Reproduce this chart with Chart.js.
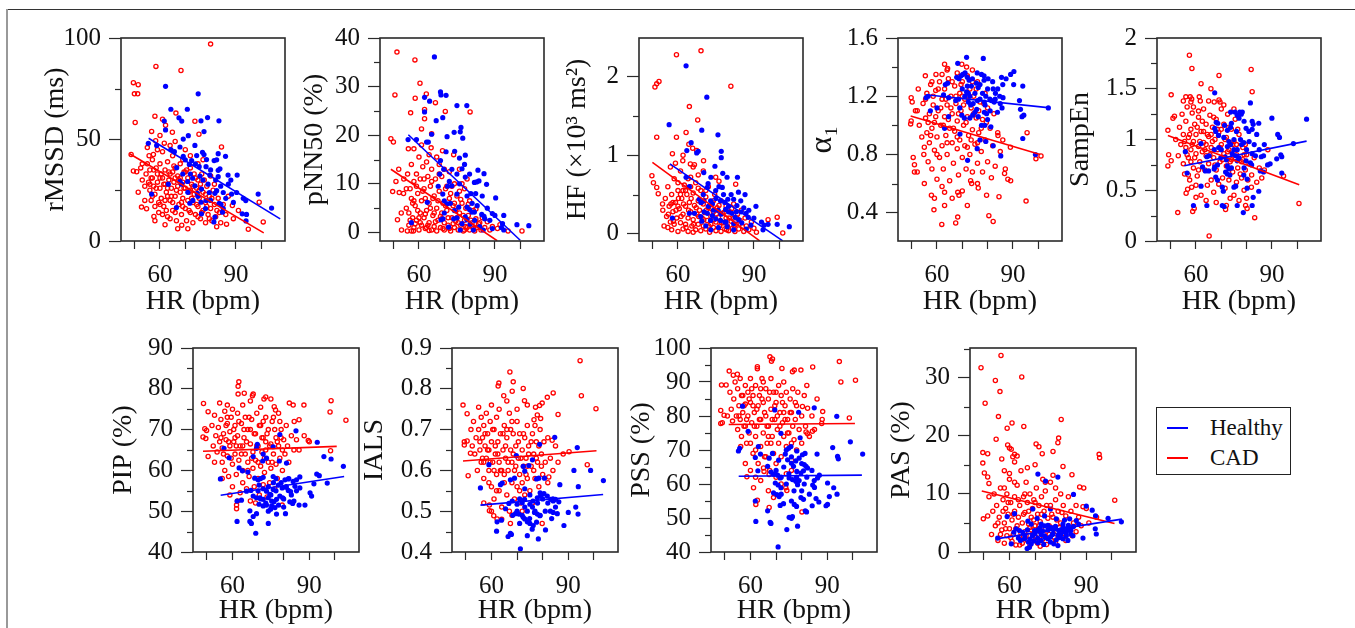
<!DOCTYPE html>
<html>
<head>
<meta charset="utf-8">
<script src="https://cdn.jsdelivr.net/npm/chart.js@4.4.1/dist/chart.umd.min.js"></script>
<style>
  body { margin: 0; background: #fff; }
  #fig { position: relative; width: 1355px; height: 628px; overflow: hidden; background: #fff; }
  .panel { position: absolute; }
  #edge-top { position: absolute; left: 7px; top: 9px; width: 1348px; height: 1px; background: #333; }
  #edge-left { position: absolute; left: 6px; top: 9px; width: 2px; height: 619px; background: #999; }
  #legend { position: absolute; left: 1156px; top: 407px; width: 133px; height: 66px; border: 1.5px solid #222;
    font-family: "Liberation Serif", "Times New Roman", serif; font-size: 23px; color: #111; }
  #legend .row { position: absolute; left: 0; height: 30px; line-height: 30px; }
  #legend .swatch { position: absolute; left: 10px; top: 14px; width: 21px; height: 2px; }
  #legend .name { position: absolute; left: 53px; top: 0; white-space: nowrap; }
</style>
</head>
<body>
<div id="fig">
  <div id="edge-top"></div>
  <div id="edge-left"></div>
  <div id="legend">
    <div class="row" style="top:5px"><div class="swatch" style="background:#0000ff"></div><span class="name">Healthy</span></div>
    <div class="row" style="top:35px"><div class="swatch" style="background:#ff0000"></div><span class="name">CAD</span></div>
  </div>
</div>
<script>
'use strict';

// x axis (heart rate) shared by every panel
const xTicks = [50, 60, 70, 80, 90, 100];
const xLabels = [60, 90];

// rMSSD (ms)
const rmssdTicks = [0, 25, 50, 75, 100];
const rmssdLabels = [0, 50, 100];
const rmssdHealthy = [[62.2,76.2],[75.1,72.5],[64.3,64.9],[70.8,64.9],[67.5,60.7],[68.6,59.1],[76.2,59.2],[78.8,60.8],[83.3,59.2],[61.7,59.1],[62.2,54.7],[71.2,51.9],[77.4,53.9],[69.2,50.2],[55.4,48.1],[58.7,47.1],[73.8,47.1],[67.9,46.3],[64.3,45],[65.7,44],[76.8,43.7],[77.4,42.6],[74.5,42.1],[69.2,41.7],[78.4,40.1],[81.4,39.6],[82.4,40],[85.9,41.7],[72.5,39.6],[71.6,37.7],[66.6,36.1],[75.5,36.6],[78.2,36.6],[83,34.8],[83.7,35.6],[79.7,32.5],[83,31.7],[86.9,32.5],[90.5,32.5],[75.8,32],[72.9,30.9],[67.9,29.3],[68.6,28],[70.9,29.3],[73.8,27.2],[76.4,25.6],[74.7,23.5],[79.5,23.9],[82.4,24.8],[81.7,23.5],[85,23.9],[90.3,23.9],[88.3,23.1],[98.8,23.1],[92.9,21],[93.9,19.9],[63.3,28],[56.7,23.1],[71.8,18.6],[76.2,19.1],[78.2,20],[83.4,18.6],[84.1,18],[76.4,13.4],[81.7,11.8],[81.3,9.4],[84.7,14.2],[92.5,13.4],[94.2,13.1],[94,9.9],[104.1,16.2],[66.5,16.5],
  [70,40],[72,33],[74,38],[77,30],[79,28],[80,35],[82,30],[84,27],[86,21],[87,28],[73,20],[75,22],[80,20],[85,16],[88,30],[69,33],[71,24],[78,16],[83,43],[89,19]];
const rmssdCad = [[80,97],[58.4,86],[68.3,84],[49.5,78],[51.4,77],[49.9,72.5],[51.2,72.5],[50.2,58.4],[58,61.5],[56.7,54],[66.3,63],[61,60],[62.2,57],[64.9,53.6],[73.8,59],[75.4,52.6],[58.3,49.4],[61.7,48.2],[84.3,46.3],[48.6,42.6],[55.7,42],[57.4,42.6],[49.5,34.5],[50.8,34.1],[52.4,36],[51.4,24],[52.7,16.7],[54.7,15.9],[57.6,12.1],[100.8,9.4],[94.9,5.8],[99.2,19.1],[88.6,17.5],[86.3,8.3],[82.4,7],[68.6,7.8],
  [53,30],[54,27],[54.5,33],[55,38],[55.5,29],[56,25],[56,35],[56.5,20],[57,31],[57,40],[57.5,27],[58,17],[58,23],[58.5,36],[59,29],[59,33],[59.5,14],[60,26],[60,38],[60.5,21],[61,31],[61,44],[61.5,17],[62,28],[62,35],[62.5,24],[63,12],[63,39],[63.5,30],[64,20],[64,33],[64.5,26],[65,15],[65,42],[65.5,29],[66,22],[66,36],[66.5,10],[67,27],[67,32],[67.5,18],[68,24],[68,38],[68.5,13],[69,29],[69,21],[69.5,34],[70,16],[70,26],[70.5,10],[71,31],[71,20],[71.5,24],[72,14],[72,36],[72.5,28],[73,9],[73,19],[73.5,23],[74,31],[74,13],[74.5,26],[75,17],[75.5,21],[76,11],[76,28],[76.5,33],[77,15],[77,24],[78,9],[78,19],[78.5,27],[79,13],[79.5,22],[80,16],[80.5,10],[81,25],[81.5,18],[82,12],[83,21],[83.5,14],[84,9],[85,18],[86,13],[87,22],[89,11],[91,15],[59,45],[64,47],[60,52],[70,45],[66,49],[72,42],[55,46],[58,10],[62,8],[67,6],[71,6],[64,11],[69,40],[75,38],[80,32],[77,40],[57,22],[61,13],[65,19],[62,20],[68,31],[70,34],[73,27],[66,14],[63,26],[60,31],[56,28],[75,30],[54,20],[53,38],
  [56.5,31],[57.5,35],[58.5,26],[59.5,19],[60.5,33],[61.5,28],[62.5,15],[63.5,34],[64.5,22],[65.5,37],[66.5,25],[67.5,30],[68.5,19],[69.5,26],[70.5,35],[71.5,15],[72.5,21],[73.5,33],[74.5,18],[75.5,25],[76.5,14],[77.5,30],[78.5,17],[79.5,11],[80.5,21],[81.5,28],[82.5,15],[60,18],[63,22],[66,31],[69,17],[72,25],[75,12],[78,23],[65,34]];
const rmssdHealthyFit = [[55.5,50.6],[107.5,10.9]];
const rmssdCadFit = [[48,43],[101,4]];

// pNN50 (%)
const pnn50Ticks = [0, 5, 10, 15, 20, 25, 30, 35, 40];
const pnn50Labels = [0, 10, 20, 30, 40];
const pnn50Healthy = [[66.1,36.1],[62.2,27.8],[62.2,24.8],[64.2,27],[68.5,28.9],[68.7,28.3],[70.7,28.2],[75,26.1],[78.9,26.1],[69.4,23.6],[66.8,23],[63,18.6],[63.7,18.6],[55.7,19.1],[59,19.1],[65,20.2],[71.1,19.7],[73.9,20.6],[76.6,21.6],[76.3,20.7],[77.3,19.4],[70.7,16.6],[74.1,16.7],[76,15.3],[78.3,15.9],[77,13.1],[68.5,14.8],[69.8,13],[68.2,12],[78.3,11.4],[83.3,12.8],[85.7,12.1],[81.9,10.3],[82.8,10.4],[83.7,10.6],[86.7,9.9],[80.5,8],[82.4,8],[90.3,7.1],[71.3,9.5],[73,9.6],[67.6,9.5],[69.4,7.9],[63.3,6.2],[72.4,6],[71.1,5.9],[75,7.9],[75.7,5.2],[79,5.2],[80,4.7],[80.9,4.2],[81.9,4.2],[84.8,3.7],[85.7,3.3],[89,3.9],[90,3.5],[93.5,3.5],[69.5,2.8],[68.7,2.6],[73.7,2.8],[75,3],[78.3,3.2],[78.9,2.6],[80.2,1.7],[57,2],[71.7,1.1],[76.3,0.5],[81.5,0.5],[85.4,0.5],[92.6,1],[93.5,0.5],[98.7,1.6],[103.4,1.4],[93,1.8],
  [70,6.5],[72,10.5],[74,4.5],[76,10],[79,7.5],[81,6],[83,5.5],[85,7.5],[87,5],[88,2.5],[73,13],[75,12],[78,14],[80,12],[82,2.5],[84,1.2],[86,2.8],[89,0.8],[70,4],[77,1.8]];
const pnn50Cad = [[51.3,37.1],[58.4,35.5],[50.5,28.3],[58.5,27.6],[60.4,30.7],[62.9,28.5],[62.2,25.3],[62.2,23.4],[66.5,26.7],[70.4,24.9],[80.2,24.8],[56.7,24.6],[61,21.3],[65,20.3],[48.9,19.3],[49.9,18.6],[55.8,17.2],[58,17.2],[64.8,17.4],[69.3,16.8],[73.7,16],[50.9,10.5],[49.6,8.4],[52.2,8.2],[53.9,8],[51.5,2.6],[53.1,0.5],[55.4,0.3],[57.8,0.3],[100.7,0.3],[95.2,0.3],
  [55,5],[55.5,12],[56,4],[56.5,9],[56,1.5],[57,7],[57,14],[57.5,3],[58,10.5],[58,1],[58.5,5.5],[59,12],[59,2.5],[59.5,8],[60,0.5],[60,15.5],[60.5,4],[60.5,11],[61,6.5],[61,1.5],[61.5,13.5],[62,3],[62,9],[62.5,0.8],[62.5,7],[63,14.5],[63,4.5],[63.5,11.5],[64,2],[64,6],[64.5,9.5],[65,0.5],[65,13],[65.5,3.5],[66,7.5],[66,1.2],[66.5,11],[67,5],[67,0.3],[67.5,2.5],[68,8.5],[68,14],[68.5,1],[69,4],[69,11.5],[69.5,6],[70,0.5],[70,2],[70.5,9],[71,4.5],[71.5,1.5],[72,7],[72,12.5],[72.5,0.3],[73,3],[73.5,5.5],[74,1],[74,10],[74.5,2.3],[75,7.5],[75.5,0.5],[76,4],[76,13],[76.5,1.5],[77,6],[77.5,0.3],[78,2.5],[78,9],[78.5,5],[79,1],[79.5,3.5],[80,0.5],[80,6.5],[81,2],[81.5,4.5],[82,0.3],[82.5,2.8],[83,1],[84,2],[84.5,0.5],[85,3],[86,1],[87,2.2],[88,0.5],[89,1.2],[91,0.8],[92,1.6],[61,18],[64,16],[67,15.5],[70,13],[73,9.5],[76,8.5],[79,11],[58,6.5],[63,1],[66,4],[69,2.8],[72,0.8],[75,3],[78,0.5],[81,1.3],[64,0.4],[60,3],[57,0.3],[55,9],[53,4],[54,11],[52,13],
  [56.5,2.5],[57.5,6],[58.5,1.8],[59.5,4.5],[60.5,2],[61.5,8.5],[62.5,3.8],[63.5,1.5],[64.5,5],[65.5,7],[66.5,2.2],[67.5,6.5],[68.5,3.3],[69.5,0.8],[70.5,5.5],[71.5,3],[72.5,8],[73.5,1.8],[74.5,4.5],[75.5,2],[76.5,6.8],[77.5,3.5],[78.5,1.2],[79.5,5.8],[80.5,2.5],[81.5,0.8],[82.5,4.8],[83.5,1.8],[65,10.5],[68,12],[71,9.5],[62,11],[59,9.5],[74,6],[77,10]];
const pnn50HealthyFit = [[55.8,20.1],[100,-1.6]];
const pnn50CadFit = [[48.9,13],[90.9,-1.7]];

// HF (x10^3 ms^2)
const hfTicks = [0, 0.5, 1, 1.5, 2];
const hfLabels = [0, 1, 2];
const hfHealthy = [[63.2,2.14],[71.4,1.74],[56.5,1.39],[69.4,1.32],[75.8,1.26],[77.1,1.05],[77.1,0.97],[65.2,1.16],[63.5,1.06],[68,1.05],[67.4,1.03],[74.6,0.86],[70.2,0.78],[73,0.72],[77.7,0.77],[79.4,0.72],[83.5,0.72],[63.2,0.72],[64.5,0.6],[71.9,0.64],[71.6,0.59],[76.2,0.6],[77.5,0.59],[74.9,0.55],[86.5,0.5],[83.9,0.53],[68.4,0.44],[69.1,0.4],[70.3,0.42],[72.9,0.42],[73.6,0.38],[76.8,0.42],[78.5,0.4],[79.7,0.44],[82,0.44],[84.8,0.42],[83.3,0.36],[90.8,0.35],[70.3,0.28],[71.6,0.26],[73.6,0.23],[64.5,0.26],[57.8,0.2],[75.9,0.3],[78.8,0.31],[80,0.28],[81.3,0.26],[82.6,0.21],[85,0.28],[86.9,0.26],[87.8,0.21],[72.9,0.17],[74.9,0.19],[76.8,0.17],[78.5,0.15],[79.4,0.09],[82,0.05],[85.2,0.14],[88.8,0.11],[93,0.15],[94,0.11],[95.6,0.12],[99.2,0.12],[104,0.09],[93.6,0.05],[69.4,0.16],[66.5,0.26],
  [70,0.5],[72,0.35],[74,0.3],[75,0.45],[77,0.25],[78,0.5],[80,0.35],[81,0.5],[83,0.28],[84,0.18],[86,0.33],[88,0.3],[90,0.2],[71,0.1],[76,0.08],[79,0.15],[82,0.13],[87,0.06],[69,0.22],[73,0.05]];
const hfCad = [[59.4,2.28],[69.1,2.33],[50.9,1.87],[51.6,1.91],[52.5,1.94],[80.9,1.88],[64.5,1.62],[67.8,1.45],[51.6,1.23],[59.4,1.23],[63.2,1.29],[64.3,1.14],[65.8,1.09],[67.4,1.06],[70.1,0.93],[57.8,1.02],[61.9,0.93],[64.9,0.89],[66.5,0.88],[49.7,0.74],[50.3,0.65],[51.6,0.59],[52.2,0.51],[53.9,0.38],[74.9,0.72],[76.2,0.67],[82.8,0.63],[95.6,0.18],[99.2,0.21],[101.4,0.01],
  [54,0.3],[54.5,0.1],[55,0.45],[55.5,0.22],[56,0.6],[56,0.08],[56.5,0.35],[57,0.15],[57.5,0.5],[57.5,0.05],[58,0.28],[58.5,0.7],[58.5,0.12],[59,0.4],[59.5,0.2],[60,0.55],[60,0.03],[60.5,0.32],[61,0.14],[61,0.8],[61.5,0.45],[62,0.25],[62,0.06],[62.5,0.62],[63,0.35],[63,0.12],[63.5,0.5],[64,0.2],[64,0.03],[64.5,0.4],[65,0.28],[65,0.72],[65.5,0.1],[66,0.52],[66,0.18],[66.5,0.36],[67,0.05],[67,0.65],[67.5,0.25],[68,0.42],[68,0.12],[68.5,0.3],[69,0.04],[69,0.55],[69.5,0.2],[70,0.38],[70,0.1],[70.5,0.27],[71,0.47],[71,0.06],[71.5,0.17],[72,0.33],[72,0.6],[72.5,0.02],[73,0.22],[73,0.12],[73.5,0.4],[74,0.08],[74,0.28],[74.5,0.5],[75,0.15],[75,0.04],[75.5,0.33],[76,0.21],[76.5,0.1],[77,0.42],[77,0.03],[77.5,0.26],[78,0.14],[78.5,0.06],[79,0.35],[79,0.2],[79.5,0.1],[80,0.04],[80.5,0.28],[81,0.16],[81.5,0.07],[82,0.38],[82,0.2],[82.5,0.03],[83,0.12],[83.5,0.25],[84,0.06],[84.5,0.17],[85,0.3],[85.5,0.09],[86,0.03],[86.5,0.2],[87,0.1],[88,0.05],[89,0.15],[90,0.07],[91,0.02],[59,0.9],[62,1.0],[66,0.85],[70,0.8],[60,0.65],[64,0.7],[68,0.75],[57,0.85],[63,0.55],[58,0.4],[61,0.5],
  [56.2,0.25],[57.2,0.38],[58.2,0.16],[59.2,0.3],[60.2,0.45],[61.2,0.22],[62.2,0.38],[63.2,0.08],[64.2,0.3],[65.2,0.45],[66.2,0.12],[67.2,0.33],[68.2,0.22],[69.2,0.4],[70.2,0.18],[71.2,0.3],[72.2,0.1],[73.2,0.32],[74.2,0.18],[75.2,0.25],[76.2,0.36],[77.2,0.14],[78.2,0.27],[79.2,0.05],[80.2,0.2],[81.2,0.32],[82.2,0.1],[83.2,0.2],[62,0.55],[65,0.6],[68,0.58],[71,0.55],[74,0.42],[60,0.35],[66,0.02]];
const hfHealthyFit = [[56.8,0.89],[101.4,-0.09]];
const hfCadFit = [[49.9,0.91],[92.3,-0.09]];

// alpha 1
const alphaTicks = [0.4, 0.6, 0.8, 1.0, 1.2, 1.4, 1.6];
const alphaLabels = [0.4, 0.8, 1.2, 1.6];
const alphaHealthy = [[71.7,1.467],[78.3,1.46],[68.2,1.426],[71.1,1.36],[70.2,1.35],[69.5,1.34],[67.8,1.33],[68.7,1.32],[72,1.33],[72.7,1.31],[75.9,1.36],[77.6,1.35],[78.6,1.34],[78.6,1.31],[80.2,1.32],[75.6,1.29],[73.6,1.27],[90.4,1.37],[89.1,1.35],[87.3,1.32],[85.5,1.33],[64.2,1.29],[63.3,1.28],[71.7,1.23],[72.4,1.22],[90.3,1.28],[93.9,1.27],[82.2,1.25],[83.1,1.22],[76.3,1.26],[84.8,1.2],[86.1,1.19],[79.3,1.2],[80.9,1.18],[81.5,1.17],[82.6,1.16],[77,1.18],[78.7,1.16],[74.3,1.15],[56.5,1.2],[55.7,1.19],[62.6,1.21],[64.6,1.19],[68.5,1.18],[67.4,1.17],[72.4,1.16],[73.3,1.14],[60,1.12],[85.7,1.12],[83.9,1.09],[92.6,1.17],[93,1.11],[104,1.12],[94.3,1.07],[93.6,1.06],[57.4,1.1],[75.7,1.11],[75,1.09],[74.1,1.07],[76.3,1.06],[69.8,1.07],[70.8,1.05],[78.7,1.09],[79.6,1.08],[64.6,1.06],[77.6,1.0],[78.9,1.0],[81.3,0.99],[63,0.98],[69.1,0.94],[77,0.9],[79.3,0.89],[82.2,0.86],[93.9,0.91],[75.9,0.84],[98.9,0.8],[85.2,0.79],[72.1,0.76],
  [70,1.25],[71,1.2],[72,1.27],[73,1.2],[74,1.32],[75,1.22],[76,1.17],[77,1.28],[78,1.22],[79,1.14],[80,1.25],[81,1.1],[82,1.3],[83,1.18],[84,1.25],[85,1.15],[86,1.28],[69,1.12],[73,1.05],[80,1.04]];
const alphaCad = [[63,1.42],[64.2,1.39],[69.8,1.42],[71.7,1.4],[55.4,1.34],[59.6,1.35],[52.6,1.25],[49.8,1.19],[50.2,1.16],[49.6,1.01],[49.8,1.03],[52.2,1.1],[51.5,1.1],[50.6,0.78],[51.1,0.73],[51.1,0.68],[52.2,0.68],[54.8,0.8],[57.8,0.52],[58.8,0.42],[63,0.54],[63,0.45],[61.9,0.32],[67.4,0.33],[68.2,0.37],[68.2,0.54],[68.7,0.52],[73.3,0.62],[73.7,0.6],[76.3,0.57],[79.6,0.52],[80.5,0.38],[82.2,0.34],[84.5,0.51],[95.2,0.48],[86.7,0.67],[89.1,0.62],[95.6,0.95],[99.1,0.77],[101.1,0.79],[84.1,0.93],
  [53,1.0],[54,0.92],[54.5,1.15],[55,0.85],[55.5,1.05],[56,0.95],[56,1.22],[56.5,0.75],[57,1.08],[57,0.88],[57.5,1.28],[58,0.98],[58,0.7],[58.5,1.14],[59,0.83],[59,1.02],[59.5,1.24],[60,0.92],[60,0.63],[60.5,1.1],[61,0.78],[61,1.3],[61.5,1.0],[62,1.18],[62,0.86],[62.5,0.7],[63,1.06],[63,1.25],[63.5,0.93],[64,0.8],[64,1.14],[64.5,1.32],[65,0.98],[65,0.62],[65.5,1.2],[66,0.88],[66,1.08],[66.5,0.74],[67,1.27],[67,0.96],[67.5,1.15],[68,0.84],[68,1.03],[68.5,0.66],[69,1.22],[69,0.9],[69.5,1.1],[70,0.78],[70,1.3],[70.5,1.0],[71,0.86],[71,1.18],[71.5,0.7],[72,1.06],[72,1.34],[72.5,0.93],[73,1.25],[73,0.8],[73.5,1.12],[74,0.68],[74,0.97],[74.5,1.2],[75,0.87],[75.5,1.05],[76,0.74],[76,1.3],[76.5,0.95],[77,1.16],[77.5,0.82],[78,1.04],[78,0.68],[79,0.9],[79,1.22],[80,0.75],[80,1.12],[81,0.98],[81.5,0.64],[82,0.86],[82.5,1.08],[83,0.72],[84,0.95],[85,0.82],[86,0.9],[87,0.7],[88,0.63],[89,0.85],[55,0.6],[62,0.58],[70,0.55],[66,0.5],[76,0.6],[72,0.45],[59,0.5],[64,1.38],[68,1.36],[74,1.38],
  [55.5,1.18],[56.5,1.02],[57.5,0.93],[58.5,1.2],[59.5,1.06],[60.5,1.25],[61.5,1.12],[62.5,1.0],[63.5,1.18],[64.5,1.04],[65.5,1.12],[66.5,0.98],[67.5,1.2],[68.5,1.08],[69.5,1.28],[70.5,1.14],[71.5,1.02],[72.5,1.2],[73.5,0.9],[74.5,1.08],[75.5,1.25],[76.5,1.1],[77.5,0.98],[78.5,1.15],[79.5,1.02],[58,1.3],[62,1.35],[66,1.3],[70,1.2],[74,1.3],[60,0.8],[64,0.88],[68,0.92],[72,0.85],[76,0.88]];
const alphaHealthyFit = [[55.7,1.21],[104.7,1.12]];
const alphaCadFit = [[49.6,1.065],[100.8,0.8]];

// SampEn
const sampenTicks = [0, 0.25, 0.5, 0.75, 1, 1.25, 1.5, 1.75, 2];
const sampenLabels = [0, 0.5, 1, 1.5, 2];
const sampenHealthy = [[67.4,1.46],[81.5,1.36],[90,1.21],[103.7,1.2],[73.7,1.27],[75.4,1.27],[77.3,1.27],[78.3,1.27],[77.9,1.25],[76.3,1.24],[77,1.21],[68,1.17],[68.6,1.16],[71.3,1.14],[82.2,1.18],[82.6,1.15],[84.8,1.16],[79.8,1.11],[80.9,1.08],[82.2,1.1],[73.7,1.12],[72.4,1.09],[67.4,1.11],[67.8,1.08],[92.3,1.05],[93,1.02],[68.9,1.04],[77.6,1.0],[75,1.0],[78.9,0.97],[62,0.96],[73.7,0.95],[72.4,0.93],[67.2,0.9],[98.5,0.96],[55.8,0.88],[76.3,0.9],[74.3,0.86],[75.7,0.84],[82.2,0.86],[83.5,0.84],[64.3,0.83],[65.2,0.84],[69.8,0.82],[71.5,0.83],[85.8,0.83],[86.7,0.84],[93.5,0.85],[93.9,0.83],[91.9,0.81],[89.3,0.76],[88.3,0.75],[79.8,0.79],[81.5,0.77],[76.3,0.79],[68.5,0.75],[67.4,0.73],[67.2,0.71],[62.6,0.73],[63.7,0.69],[65,0.69],[72.4,0.74],[73,0.71],[56.5,0.67],[93.9,0.67],[71.7,0.68],[72.4,0.66],[73.4,0.65],[85.4,0.69],[86.7,0.68],[67.8,0.63],[68.5,0.6],[78.9,0.65],[80.2,0.61],[75,0.53],[75.7,0.54],[80.2,0.52],[70.4,0.53],[70.8,0.49],[62,0.54],[84.8,0.49],[82.6,0.43],[59,0.35],[64.3,0.35],[70.4,0.35],[71.1,0.34],[76.3,0.35],[78.7,0.28],[82.2,0.35],
  [70,0.9],[71,1.02],[72,0.8],[73,0.98],[74,0.72],[75,0.9],[76,1.08],[77,0.82],[78,0.95],[79,0.72],[80,0.9],[81,0.98],[82,0.75],[83,0.95],[84,1.05],[85,0.9],[87,0.95],[69,0.92],[74,1.16],[79,1.18]];
const sampenCad = [[57.4,1.83],[58.4,1.7],[69.1,1.63],[81.8,1.69],[82.2,1.47],[62,1.55],[50.2,1.44],[56,1.42],[57.7,1.42],[58,1.37],[58.3,1.4],[61.3,1.42],[61.7,1.38],[65.9,1.5],[67.2,1.37],[69.1,1.39],[69.5,1.37],[48.9,1.09],[49.2,0.85],[50.2,0.79],[48.9,0.74],[50.9,1.21],[51.5,1.23],[52.8,0.28],[56.1,0.47],[56.7,0.51],[58.3,0.53],[58.7,0.29],[59.3,0.32],[60,0.43],[65.2,0.05],[71.7,0.31],[83.2,0.23],[80.2,0.32],[79.6,0.35],[81.9,0.53],[100.7,0.37],[94.6,0.64],[88.4,0.9],
  [52,1.0],[53,0.84],[53.5,1.12],[54,0.95],[54.5,1.25],[55,0.76],[55,1.05],[55.5,0.66],[56,0.92],[56,1.18],[56.5,1.32],[57,0.82],[57,1.02],[57.5,0.6],[58,1.1],[58,0.9],[58.5,1.26],[59,0.72],[59,0.98],[59.5,1.15],[60,0.86],[60,1.05],[60.5,0.64],[61,0.93],[61,1.22],[61.5,0.78],[62,1.08],[62,0.45],[62.5,0.88],[63,1.3],[63,0.97],[63.5,0.7],[64,1.15],[64,0.84],[64.5,0.55],[65,1.03],[65,0.76],[65.5,1.24],[66,0.92],[66,0.6],[66.5,1.12],[67,0.82],[67,0.48],[67.5,1.0],[68,0.7],[68,1.2],[68.5,0.9],[69,0.56],[69,1.07],[69.5,0.78],[70,1.3],[70,0.95],[70.5,0.62],[71,1.15],[71,0.86],[71.5,0.52],[72,1.02],[72,0.74],[72.5,1.25],[73,0.9],[73,0.6],[73.5,0.42],[74,1.1],[74,0.8],[74.5,0.68],[75,0.98],[75,0.45],[75.5,1.2],[76,0.85],[76,0.58],[76.5,0.72],[77,1.05],[77,0.4],[78,0.78],[78,0.62],[78.5,0.92],[79,0.5],[79.5,0.7],[80,0.85],[80,0.42],[80.5,0.6],[81,0.76],[82,0.65],[83,0.82],[84,0.58],[85,0.72],[86,0.62],[87,0.7],[57,0.65],[60,0.55],[64,0.4],[68,0.38],[72,0.35],[61,1.28],[65,1.38],[59,1.32],[55,1.38],[71,1.34],[75,1.3],
  [55.5,0.98],[56.5,0.85],[57.5,1.05],[58.5,0.95],[59.5,0.82],[60.5,1.12],[61.5,0.98],[62.5,1.18],[63.5,0.9],[64.5,1.05],[65.5,0.85],[66.5,0.98],[67.5,0.75],[68.5,1.1],[69.5,0.92],[70.5,0.8],[71.5,1.0],[72.5,0.88],[73.5,0.78],[74.5,0.95],[75.5,0.82],[76.5,1.1],[77.5,0.66],[78.5,0.8],[79.5,0.95],[58,0.78],[61,0.7],[64,0.95],[67,1.22],[70,1.1],[73,1.12],[76,0.95],[79,0.85],[63,1.08],[66,1.05]];
const sampenHealthyFit = [[55.4,0.742],[103.7,0.984]];
const sampenCadFit = [[48.9,1.039],[100.8,0.555]];

// PIP (%)
const pipTicks = [40, 45, 50, 55, 60, 65, 70, 75, 80, 85, 90];
const pipLabels = [40, 50, 60, 70, 80, 90];
const pipHealthy = [[55.3,57.9],[56.7,65.4],[58.7,63.1],[61.8,52.5],[63.5,52.7],[61.8,47.5],[66.8,47.5],[67.4,47],[69.1,44.6],[74,47],[68.1,48.7],[69.4,49.4],[66.8,50.1],[62.6,60.6],[63.9,59.9],[66,59.6],[68.1,63.4],[69.4,65.4],[69.7,66.4],[72,64],[75.9,65.8],[71.8,62.3],[73.3,63],[78.5,68.8],[84.8,69.7],[78.3,62.3],[81.1,61.8],[68.7,58.1],[70,57.7],[72,58.3],[75.9,58.5],[80.5,57.7],[81.8,57.9],[83.7,57.3],[85,57.7],[86.3,58.4],[77.9,56.4],[79.4,55.7],[80.9,55.9],[65.5,54.9],[67.2,55.1],[70.4,56.4],[73.3,54.9],[74.6,54.1],[75.9,55.3],[81.8,55.1],[82.7,54.8],[84.4,56.1],[68.1,53.7],[69.4,53.3],[70.7,53.3],[72,52.9],[74,53.3],[75.3,52.5],[76.2,52.3],[77.2,52.9],[78.5,53.7],[79.6,53.3],[70.4,51.7],[72,51.3],[73.3,51.5],[75.3,51.3],[76.6,50.9],[82.4,52.3],[83.5,51.9],[86,51.5],[88.3,51.5],[77.2,49.3],[80.7,49.4],[90.9,53.7],[90.3,54.5],[91.8,56.7],[95.7,63.4],[97,56.9],[98.5,62.8],[103.3,61],[93.1,66.9],[92.9,59.1],[93.9,58.7],[86.3,55.7],[74.9,50.5],
  [70,55],[71,53],[72,55.5],[73,52],[74,56],[75,54],[76,57],[77,55],[78,51.5],[79,57],[80,53],[81,56],[82,58],[83,54],[84,52.5],[85,55],[71,58],[74,50],[77,58],[80,51]];
const pipCad = [[62.5,81.7],[62.2,80.6],[62.2,78.7],[64.6,78.9],[67.8,78.3],[68.1,78.7],[72.3,77.5],[48.7,76.4],[55,76.5],[76.3,75.6],[76.8,74.8],[82.2,76.5],[83.7,76],[87.9,76],[98.5,77.1],[98.1,74.3],[104.3,72.3],[50.5,74.4],[49.2,70.2],[49.9,69.8],[48.5,68.2],[49.6,67.8],[50.5,63.4],[98.3,64.8],[84.1,72],[86,72.4],[89.6,67.3],[79.4,51.5],[61.6,51.5],[61.6,50.6],
  [52,71],[52.5,66],[53,73.5],[53.5,68.5],[54,64.5],[54.5,70.5],[55,67],[55.5,72.5],[56,65.5],[56,62],[56.5,69],[57,74.5],[57,60],[57.5,67.5],[58,71.5],[58,63.5],[58.5,58.5],[59,69.5],[59,66],[59.5,73],[60,61.5],[60,56],[60.5,67],[61,71],[61,64],[61.5,59],[62,74],[62,68.5],[62.5,62.5],[63,54.5],[63,66],[63.5,71.5],[64,60],[64,57],[64.5,68],[65,64],[65,73],[65.5,55.5],[66,62],[66,70],[66.5,58.5],[67,66.5],[67,52.5],[67.5,72.5],[68,60.5],[68,64.5],[68.5,56],[69,69],[69,62.5],[69.5,74],[70,58],[70,66],[70.5,54],[71,71],[71,61],[71.5,64.5],[72,56.5],[72,68],[72.5,59.5],[73,73],[73,65],[73.5,53.5],[74,62],[74,70],[74.5,57],[75,66.5],[75,60.5],[75.5,72],[76,64],[76.5,55.5],[77,68],[77,61.5],[77.5,58],[78,66],[78,74],[78.5,63],[79,70],[79.5,60],[80,67.5],[80.5,64],[81,71],[81.5,66],[82,62],[83,68.5],[84,65],[85,67.5],[86,65],[88,68.5],[90,67],[53,62],[56,58],[59,54],[64,76],[60,75],[67,77],[71,75.5],[75,77.5],[58,76],[62,52.5],[69,52],[73,78],
  [55.5,68],[56.5,64],[57.5,71],[58.5,67],[59.5,63],[60.5,70],[61.5,66],[62.5,72],[63.5,64],[64.5,70],[65.5,67],[66.5,73],[67.5,63],[68.5,69],[69.5,66],[70.5,71],[71.5,68],[72.5,63],[73.5,69],[74.5,66],[75.5,62],[76.5,70],[77.5,67],[78.5,72],[79.5,65],[58,73],[61,68],[64,66],[67,70],[70,62],[73,67],[76,73],[79,68],[66,60],[72,72]];
const pipHealthyFit = [[55.4,53.9],[103.6,58.5]];
const pipCadFit = [[48.5,64.7],[100.7,65.9]];

// IALS
const ialsTicks = [0.4, 0.45, 0.5, 0.55, 0.6, 0.65, 0.7, 0.75, 0.8, 0.85, 0.9];
const ialsLabels = [0.4, 0.5, 0.6, 0.7, 0.8, 0.9];
const ialsHealthy = [[71.3,0.408],[66.5,0.438],[67.8,0.443],[67.4,0.446],[62,0.451],[74,0.44],[78.3,0.432],[81.1,0.454],[62.2,0.474],[63.9,0.478],[68.3,0.49],[69.4,0.494],[70.7,0.493],[72.4,0.485],[73,0.481],[74,0.474],[74.9,0.482],[76.8,0.497],[77.9,0.493],[78.9,0.489],[76.3,0.465],[77.6,0.473],[75.9,0.456],[83.5,0.482],[84.1,0.497],[85.7,0.494],[88.3,0.465],[90,0.497],[93.8,0.493],[92.9,0.51],[65.5,0.506],[66.8,0.519],[68.1,0.525],[70,0.517],[72,0.521],[72.9,0.529],[75,0.517],[76.2,0.525],[77.9,0.533],[79.2,0.537],[80.5,0.543],[81.8,0.537],[83.1,0.529],[84.1,0.525],[85,0.529],[86.3,0.523],[86.7,0.565],[55.7,0.557],[59,0.614],[64.2,0.569],[63.5,0.565],[67.4,0.577],[69,0.581],[72.4,0.61],[73,0.598],[74.6,0.612],[76,0.626],[78.5,0.581],[77.6,0.579],[80.7,0.581],[78.8,0.664],[84.7,0.681],[92.2,0.6],[93.5,0.656],[93.9,0.56],[103.7,0.575],[98.7,0.6],[69.7,0.636],
  [70,0.5],[71,0.53],[72,0.49],[73,0.51],[74,0.5],[75,0.47],[76,0.51],[77,0.5],[78,0.52],[79,0.49],[80,0.53],[81,0.5],[82,0.52],[83,0.5],[84,0.53],[85,0.51],[71,0.47],[75,0.54],[79,0.545],[73,0.555]];
const ialsCad = [[67.2,0.841],[68.5,0.817],[62.9,0.814],[62.6,0.807],[72.4,0.801],[64.8,0.783],[68.1,0.794],[72.9,0.771],[84.1,0.79],[81.8,0.779],[94.6,0.869],[95.1,0.783],[100.8,0.751],[48.9,0.76],[50.5,0.739],[55,0.755],[97.4,0.614],[50.9,0.587],[49.4,0.67],[49.4,0.662],[50.5,0.672],[51.8,0.642],[59.2,0.515],[59.2,0.501],[60.9,0.489],[62.2,0.481],[67.4,0.47],[79.8,0.47],[82.4,0.584],[83.7,0.674],[86,0.737],[90.3,0.646],[77.9,0.736],[76.6,0.724],[77.2,0.755],[78.8,0.759],[79.8,0.765],[79.2,0.727],
  [52,0.7],[52.5,0.66],[53,0.72],[53.5,0.64],[54,0.68],[54.5,0.6],[55,0.7],[55.5,0.65],[56,0.73],[56,0.62],[56.5,0.68],[57,0.58],[57,0.71],[57.5,0.66],[58,0.63],[58,0.74],[58.5,0.69],[59,0.6],[59,0.65],[59.5,0.72],[60,0.56],[60,0.67],[60.5,0.62],[61,0.7],[61,0.53],[61.5,0.64],[62,0.59],[62,0.73],[62.5,0.67],[63,0.55],[63,0.62],[63.5,0.69],[64,0.6],[64,0.51],[64.5,0.65],[65,0.57],[65,0.71],[65.5,0.63],[66,0.54],[66,0.68],[66.5,0.6],[67,0.5],[67,0.74],[67.5,0.65],[68,0.57],[68,0.62],[68.5,0.69],[69,0.53],[69,0.6],[69.5,0.66],[70,0.72],[70,0.56],[70.5,0.63],[71,0.59],[71,0.69],[71.5,0.52],[72,0.65],[72,0.57],[72.5,0.61],[73,0.68],[73,0.54],[73.5,0.63],[74,0.58],[74,0.71],[74.5,0.66],[75,0.55],[75.5,0.61],[76,0.69],[76,0.52],[76.5,0.64],[77,0.58],[77.5,0.67],[78,0.62],[78.5,0.56],[79,0.7],[79.5,0.64],[80,0.59],[80.5,0.67],[81,0.62],[82,0.57],[82,0.68],[83,0.63],[84,0.6],[85,0.66],[86,0.62],[88,0.64],[60,0.5],[64,0.48],[68,0.49],[72,0.5],[57,0.52],[63,0.75],[66,0.77],[70,0.75],[60,0.76],[74,0.76],
  [55.5,0.67],[56.5,0.63],[57.5,0.69],[58.5,0.65],[59.5,0.62],[60.5,0.7],[61.5,0.66],[62.5,0.64],[63.5,0.6],[64.5,0.69],[65.5,0.66],[66.5,0.62],[67.5,0.7],[68.5,0.64],[69.5,0.61],[70.5,0.67],[71.5,0.63],[72.5,0.69],[73.5,0.59],[74.5,0.64],[75.5,0.67],[76.5,0.6],[77.5,0.63],[78.5,0.66],[79.5,0.61],[59,0.57],[62,0.55],[65,0.59],[68,0.72],[71,0.55],[74,0.61],[77,0.71],[66,0.7],[61,0.6],[57,0.62]];
const ialsHealthyFit = [[55.7,0.515],[103.6,0.541]];
const ialsCadFit = [[48.9,0.623],[101,0.648]];

// PSS (%)
const pssTicks = [40, 45, 50, 55, 60, 65, 70, 75, 80, 85, 90, 95, 100];
const pssLabels = [40, 50, 60, 70, 80, 90, 100];
const pssHealthy = [[56.9,82.9],[69.5,81.8],[78.8,81.1],[84.9,82.4],[55.3,69.7],[55.8,70.5],[59.1,75.5],[63.1,71],[63.9,68.8],[61.9,67.8],[62.9,63.9],[61.9,55],[62.1,49],[66.7,52.1],[67.7,48.7],[68,48.4],[70.8,41.5],[74.2,46.6],[78.4,47.6],[76,49.9],[75.1,50.2],[76.4,50.4],[67.3,67.6],[68.6,69],[66.7,65.2],[68,63.5],[69,62.9],[70.6,62.6],[71.6,61.8],[69.7,60.3],[70.8,59.7],[71.9,58.9],[69,57.4],[70.3,56.9],[71.2,56.3],[71.6,53.7],[72.9,54.2],[77.1,54],[78,53.4],[79.7,56],[80.7,55.5],[81.4,52.1],[81.9,51.8],[84.1,53.6],[86.7,54.7],[89.5,53.6],[90.8,56.3],[85.6,55.7],[71.9,74.9],[74.9,70.5],[75.8,71],[73.6,68.8],[74.5,67.1],[76,66.1],[76.8,65.2],[77.7,66.8],[79,67.6],[78.1,63.7],[79.7,63.2],[80.7,63.9],[81,65.7],[81.7,65.2],[82.3,64.7],[78.1,69.7],[80.3,68.6],[81.3,69],[75.1,61.8],[76.4,61.3],[77.7,60.8],[78.4,59.8],[84.9,61],[86.2,61.8],[86.9,62.6],[84.3,59.7],[90.1,60.3],[92.5,58.9],[93.8,57],[90.1,54],[93.7,79.9],[99,72.4],[94,68.1],[94.3,67.4],[103.8,68.8],[92.1,70.7],[86,68.8],[79.4,73.6],
  [70,64],[71,67],[72,62],[73,65],[74,60],[75,63],[76,68],[77,58],[78,62],[79,61],[80,66],[81,60],[82,62],[83,57],[84,64],[85,59],[72,57],[76,55],[80,58],[74,70]];
const pssCad = [[67.6,97.4],[68.6,96.8],[68.2,96.1],[51.7,93.2],[72.3,94],[62.7,94.5],[62.7,93.9],[77.1,93.5],[76.4,93],[79.7,93.5],[84.3,94.4],[94.7,96],[95.3,90],[101,90.5],[98.6,79.4],[48.7,89.1],[50.5,89.1],[53.3,92],[54.9,92.3],[48.4,81.6],[49.7,80.2],[51,80],[49,78],[48.4,77.8],[80.3,82.8],[82.3,82.3],[88.2,81.3],[81.7,75.3],[82.3,74.8],[84.2,75.5],[87.8,77.8],[58.6,62.1],[56.2,71],[61.2,58.9],[62.7,55.2],[62.1,54],[67.3,53.1],[80.1,51.8],[73.8,58.9],[74.2,58.1],[65.1,64.7],[65.3,63.7],[67.3,62.8],
  [52,87],[52.5,82],[53,78.5],[53.5,85],[54,90],[54.5,80],[55,76],[55,88],[55.5,83],[56,79],[56,91],[56.5,74],[57,86],[57,81],[57.5,77],[58,89],[58,83.5],[58.5,72],[59,80],[59,87],[59.5,75],[60,91],[60,84],[60.5,78],[61,69],[61,86],[61.5,81],[62,74],[62,89],[62.5,77],[63,83],[63,66],[63.5,86],[64,79],[64,71],[64.5,91],[65,75],[65,84],[65.5,68],[66,88],[66,80],[66.5,72],[67,85],[67,77],[67.5,64],[68,91],[68,82],[68.5,74],[69,87],[69,69],[69.5,79],[70,84],[70,66],[70.5,76],[71,89],[71,72],[71.5,81],[72,86],[72,68],[72.5,78],[73,74],[73,90],[73.5,83],[74,71],[74,87],[74.5,79],[75,75],[75.5,85],[76,67],[76,81],[76.5,88],[77,73],[77.5,79],[78,83],[78,70],[78.5,87],[79,76],[80,80],[80,72],[81,86],[81.5,77],[82,89],[83,74],[84,80],[85,76],[86,85],[88,79],[70,62],[74,63],[60,64],[64,61],[67,58],[72,60],[76,64],[58,66],[62,62],[69,56],
  [55.5,80],[56.5,86],[57.5,83],[58.5,79],[59.5,85],[60.5,88],[61.5,77],[62.5,82],[63.5,79],[64.5,85],[65.5,81],[66.5,77],[67.5,87],[68.5,79],[69.5,83],[70.5,80],[71.5,77],[72.5,84],[73.5,79],[74.5,75],[75.5,81],[76.5,77],[77.5,84],[58,77],[61,83],[64,88],[67,74],[70,87],[73,81],[76,72],[62,70],[66,68],[60,72],[68,72],[65,90]];
const pssHealthyFit = [[55.4,62.3],[103.5,62.6]];
const pssCadFit = [[51.5,77.5],[100.8,77.8]];

// PAS (%)
const pasTicks = [0, 5, 10, 15, 20, 25, 30, 35];
const pasLabels = [0, 10, 20, 30];
const pasHealthy = [[71.1,13.4],[78.9,12.9],[74.1,12.2],[85,9.9],[90,7.9],[92.3,7.2],[93.6,6.2],[98.5,5.8],[103.7,5.2],[93.5,4],[93.9,3.1],[88.7,2.4],[55.4,2.4],[59.1,6.1],[62,6.6],[69.1,7.4],[76,7.4],[70.8,5.8],[73.7,6.2],[78.3,5.7],[81.5,5.5],[83.5,5.7],[86.1,5.4],[87,4.8],[80.9,4.8],[82.8,4.2],[67.2,5.3],[68.5,4.8],[72.4,4.8],[73.7,4.5],[75,4.6],[76.3,4.2],[77.6,4],[79.2,3.7],[62.6,4],[63.9,3.7],[65.2,3.4],[69.8,3.7],[71.1,3.8],[72.1,3.5],[80,3.8],[81.3,3.5],[82.6,3.7],[83.9,3.1],[84.8,2.8],[63.5,2.4],[64.3,2],[65.9,2.3],[67.4,1.7],[68.5,1.4],[69.5,1.9],[71.1,1.6],[72.4,2],[73.4,1.3],[75,2.3],[76,1.7],[77.3,1.4],[78.3,2.1],[79.6,2.5],[80.9,2.3],[82.2,2.8],[82.8,2],[66.9,0.6],[67.8,0.8],[78.9,1.1],[61.7,3.4],[60.7,1.4],[72.4,3],[73.7,2.8],[76.8,3],
  [66,2.8],[67,3.8],[68,2.2],[69,2.8],[70,3.2],[71,2.4],[72,4.2],[73,3.6],[74,2.5],[75,3.8],[76,2.6],[77,3.2],[78,4.4],[79,2.9],[80,3],[81,4.2],[82,3.3],[83,4.6],[84,3.8],[85,4.4]];
const pasCad = [[56.7,33.8],[48.9,31.7],[54.5,29.5],[64.8,30.1],[56.3,27.6],[50.5,25.6],[55.7,23.3],[61,22.2],[65.6,21.6],[80.2,22.8],[59.1,21.3],[54.8,19.4],[79.2,19.6],[78.9,18.8],[70.4,18.6],[71.5,18.1],[72.8,16.9],[77,17.3],[59.3,18.4],[60,17.9],[60.7,17.7],[61.3,16.4],[62,16.8],[49.6,17.1],[51.5,16.9],[49.6,15.3],[50.2,13.6],[51.5,12.9],[52,11.8],[95,16.8],[95.2,16.2],[80.9,14.7],[84.4,13.3],[77,13.2],[87.4,11.2],[88.7,7.8],[101.1,8.9],[49.8,5.7],[51.5,6.2],
  [52,9.5],[53,3],[53.5,7],[54,10],[54.5,4.5],[55,8],[55.5,2],[56,6],[56.5,11],[57,3.8],[57.5,9],[58,5],[58,1.5],[58.5,7.5],[59,10],[59,2.8],[59.5,6.5],[60,4],[60,12.5],[60.5,8.5],[61,1.8],[61,5.5],[61.5,3],[62,9.5],[62,7],[62.5,1.2],[63,4.5],[63,11.5],[63.5,6],[64,2.5],[64,8],[64.5,14],[65,5],[65,1.5],[65.5,9.5],[66,3.5],[66,6.8],[66.5,12],[67,2],[67,8.5],[67.5,4.8],[68,10],[68,1.2],[68.5,6],[69,3],[69,7.5],[69.5,9],[70,2],[70,4.5],[70.5,11],[71,6.5],[71,1.5],[71.5,8],[72,3.5],[72,5.2],[72.5,9.5],[73,2.2],[73.5,7],[74,4],[74,10.5],[74.5,1.3],[75,5.8],[75.5,3],[76,8],[76,12],[76.5,2],[77,6],[77.5,4.2],[78,9],[78,1.5],[78.5,3.5],[79,7],[79.5,2.5],[80,10],[80,5],[81,3.2],[81,8],[82,2],[82,6.2],[83,4],[83,9.5],[84,7],[84.5,2.8],[85,5],[86,8],[86,3.5],[87,6],[88,4.5],[89,11],[90,7.5],[91,5],[94,6],[58,14],[62,15.5],[67,14.5],[73,12.5],[70,15],[60,13.5],[63,16.5],[57,16],
  [55.5,5],[56.5,3],[57.5,7],[58.5,4],[59.5,8.5],[60.5,2.5],[61.5,6.5],[62.5,4],[63.5,9],[64.5,3.2],[65.5,6.5],[66.5,2.8],[67.5,7],[68.5,3.8],[69.5,5.5],[70.5,2.5],[71.5,4.5],[72.5,6.5],[73.5,3.2],[74.5,8],[75.5,4.5],[76.5,6.5],[77.5,2.5],[78.5,5.5],[79.5,4.2],[80.5,6.8],[58,11],[62,12],[66,10],[70,8.5],[74,12],[78,11],[64,1.2],[68,4.2],[72,1]];
const pasHealthyFit = [[54.8,2.26],[103.9,5.66]];
const pasCadFit = [[49.2,10.5],[101,4.9]];

// panel layout: plot box in page pixels, y title centre, axis range
const panels = [
  { title: 'rMSSD (ms)', healthy: rmssdHealthy, cad: rmssdCad, hFit: rmssdHealthyFit, cFit: rmssdCadFit, ticks: rmssdTicks, labels: rmssdLabels, min: 0, max: 100, box: [121, 35, 164, 206], titleX: 56 },
  { title: 'pNN50 (%)', healthy: pnn50Healthy, cad: pnn50Cad, hFit: pnn50HealthyFit, cFit: pnn50CadFit, ticks: pnn50Ticks, labels: pnn50Labels, min: -1.76, max: 40, box: [380, 35, 164, 206], titleX: 315 },
  { title: 'HF (×10³ ms²)', healthy: hfHealthy, cad: hfCad, hFit: hfHealthyFit, cFit: hfCadFit, ticks: hfTicks, labels: hfLabels, min: -0.092, max: 2.494, box: [639, 35, 164, 206], titleX: 578 },
  { title: 'α₁', healthy: alphaHealthy, cad: alphaCad, hFit: alphaHealthyFit, cFit: alphaCadFit, ticks: alphaTicks, labels: alphaLabels, min: 0.206, max: 1.6, box: [898, 35, 164, 206], titleX: 822, titleSize: 32 },
  { title: 'SampEn', healthy: sampenHealthy, cad: sampenCad, hFit: sampenHealthyFit, cFit: sampenCadFit, ticks: sampenTicks, labels: sampenLabels, min: 0, max: 2, box: [1157, 35, 164, 206], titleX: 1081 },
  { title: 'PIP (%)', healthy: pipHealthy, cad: pipCad, hFit: pipHealthyFit, cFit: pipCadFit, ticks: pipTicks, labels: pipLabels, min: 40, max: 90, box: [193, 345, 166, 207], titleX: 124 },
  { title: 'IALS', healthy: ialsHealthy, cad: ialsCad, hFit: ialsHealthyFit, cFit: ialsCadFit, ticks: ialsTicks, labels: ialsLabels, min: 0.4, max: 0.9, box: [452, 345, 166, 207], titleX: 375 },
  { title: 'PSS (%)', healthy: pssHealthy, cad: pssCad, hFit: pssHealthyFit, cFit: pssCadFit, ticks: pssTicks, labels: pssLabels, min: 40, max: 100, box: [711, 345, 166, 207], titleX: 642 },
  { title: 'PAS (%)', healthy: pasHealthy, cad: pasCad, hFit: pasHealthyFit, cFit: pasCadFit, ticks: pasTicks, labels: pasLabels, min: 0, max: 35.1, box: [970, 345, 166, 207], titleX: 902 },
];

const FONT = '"Liberation Serif", "Times New Roman", serif';
const TICK_SIZE = 25;
const TITLE_SIZE = 28;
const PAD_TOP = 20;
const PAD_RIGHT = 12;
const AXIS_COLOR = '#2a2a2a';

Chart.defaults.font.family = FONT;
Chart.defaults.color = '#111';

function hasLabel(list, v) {
  return list.some(l => Math.abs(l - v) < 1e-9);
}

function toPoints(pairs) {
  return pairs.map(p => ({ x: p[0], y: p[1] }));
}

// plot frame and the short unlabelled y ticks
const framePlugin = {
  id: 'frame',
  afterDraw(chart) {
    const { ctx, chartArea: a } = chart;
    const y = chart.scales.y;
    ctx.save();
    ctx.strokeStyle = AXIS_COLOR;
    ctx.lineWidth = 1.2;
    y.ticks.forEach(t => {
      if (t.label) return;
      const py = Math.round(y.getPixelForValue(t.value)) + 0.5;
      ctx.beginPath();
      ctx.moveTo(a.left - 6, py);
      ctx.lineTo(a.left, py);
      ctx.stroke();
    });
    ctx.lineWidth = 1.6;
    ctx.strokeRect(a.left, a.top, a.right - a.left, a.bottom - a.top);
    ctx.restore();
  }
};

const fig = document.getElementById('fig');

function makePanel(p) {
  const [bx, by, bw, bh] = p.box;
  const yTitleSize = p.titleSize || TITLE_SIZE;
  const left = Math.round(p.titleX - yTitleSize * 0.6);
  const yWidth = bx - left;
  const xHeight = by < 100 ? 77 : 75;
  const w = yWidth + bw + PAD_RIGHT;
  const h = PAD_TOP + bh + xHeight;

  const holder = document.createElement('div');
  holder.className = 'panel';
  holder.style.left = left + 'px';
  holder.style.top = (by - PAD_TOP) + 'px';
  const canvas = document.createElement('canvas');
  canvas.width = w;
  canvas.height = h;
  canvas.style.width = w + 'px';
  canvas.style.height = h + 'px';
  holder.appendChild(canvas);
  fig.appendChild(holder);

  new Chart(canvas.getContext('2d'), {
    type: 'scatter',
    data: {
      datasets: [
        { type: 'line', data: toPoints(p.hFit), borderColor: '#0000ff', borderWidth: 1.6, pointRadius: 0, fill: false, order: 0 },
        { type: 'line', data: toPoints(p.cFit), borderColor: '#ff0000', borderWidth: 1.6, pointRadius: 0, fill: false, order: 0 },
        { label: 'Healthy', data: toPoints(p.healthy), pointRadius: 2.6, pointBorderWidth: 0,
          backgroundColor: '#0000ff', borderColor: '#0000ff', order: 1 },
        { label: 'CAD', data: toPoints(p.cad), pointRadius: 2.1, pointBorderWidth: 1.3,
          backgroundColor: 'rgba(255,255,255,0)', borderColor: '#ff0000', order: 2 },
      ]
    },
    options: {
      responsive: false,
      animation: false,
      devicePixelRatio: 1,
      layout: { padding: { left: 0, top: PAD_TOP, right: PAD_RIGHT, bottom: 0 } },
      plugins: { legend: { display: false }, tooltip: { enabled: false } },
      scales: {
        x: {
          type: 'linear',
          min: 44.6,
          max: 109.4,
          afterBuildTicks(s) { s.ticks = xTicks.map(v => ({ value: v })); },
          afterFit(s) { s.height = xHeight; },
          grid: { drawOnChartArea: false, drawTicks: true, tickLength: 8, tickWidth: 1.2, tickColor: AXIS_COLOR },
          border: { display: false },
          ticks: {
            padding: 11,
            maxRotation: 0,
            autoSkip: false,
            font: { size: TICK_SIZE },
            callback: v => (hasLabel(xLabels, v) ? String(v) : '')
          },
          title: { display: true, text: 'HR (bpm)', font: { size: TITLE_SIZE }, padding: { top: 0, bottom: 0 } }
        },
        y: {
          type: 'linear',
          min: p.min,
          max: p.max,
          afterBuildTicks(s) { s.ticks = p.ticks.map(v => ({ value: v })); },
          afterFit(s) { s.width = yWidth; },
          grid: {
            drawOnChartArea: false, drawTicks: true, tickLength: 12, tickWidth: 1.2,
            tickColor: c => (c.tick && hasLabel(p.labels, c.tick.value) ? AXIS_COLOR : 'rgba(0,0,0,0)')
          },
          border: { display: false },
          ticks: {
            padding: 8,
            autoSkip: false,
            font: { size: TICK_SIZE },
            callback: v => (hasLabel(p.labels, v) ? String(v) : '')
          },
          title: { display: true, text: p.title, font: { size: yTitleSize }, padding: { top: 0, bottom: 0 } }
        }
      }
    },
    plugins: [framePlugin]
  });
}

panels.forEach(makePanel);
</script>
</body>
</html>
